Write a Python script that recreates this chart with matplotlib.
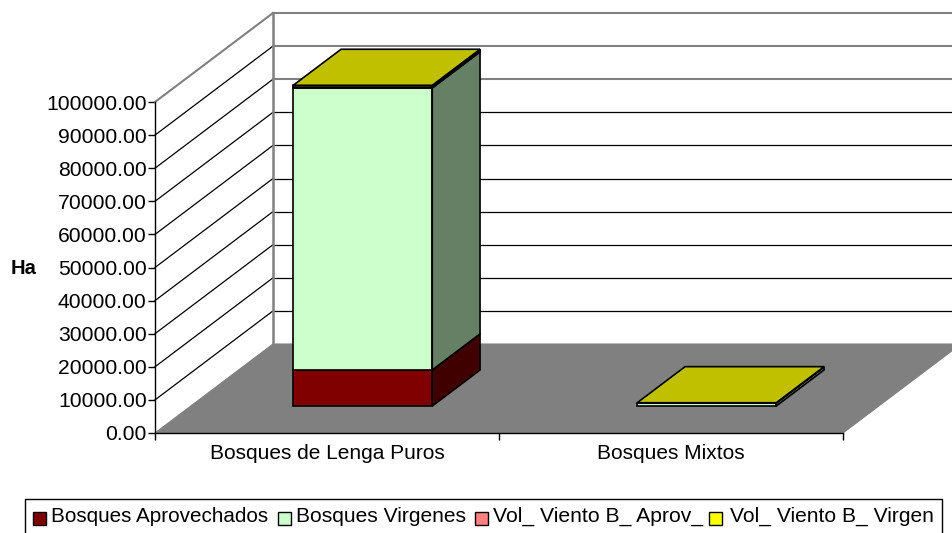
import matplotlib
matplotlib.use('Agg')
import matplotlib.pyplot as plt
from matplotlib.patches import Polygon, Rectangle

plt.rcParams['font.family'] = ['Liberation Sans', 'DejaVu Sans']

# datos
categorias = ['Bosques de Lenga Puros', 'Bosques Mixtos']
series = ['Bosques Aprovechados', 'Bosques Virgenes', 'Vol_ Viento B_ Aprov_', 'Vol_ Viento B_ Virgen']
aprovechados = [10900, 0]
virgenes = [85200, 900]
vol_aprov = [400, 0]
vol_virgen = [400, 100]
yticks = [0, 10000, 20000, 30000, 40000, 50000, 60000, 70000, 80000, 90000, 100000]

colores = ['#800000', '#CCFFCC', '#FF8080', '#FFFF00']
laterales = ['#400000', '#668066', '#804040', '#808000']
superior = '#C0C000'

# profundidad del piso en unidades de datos
DX = 118 / 344
DY = 89 / 331 * 100000
D0, D1 = 0.303, 0.708
ANCHO = 0.404


def proy(x, v, d):
    return (x + d * DX, v + d * DY)


fig = plt.figure(figsize=(9.53, 5.33), dpi=100)
ax = fig.add_axes([155 / 953, 100 / 533, 688 / 953, 331 / 533])
ax.set_xlim(0, 2)
ax.set_ylim(0, 100000)
ax.patch.set_visible(False)


def cara(pts, fc, ec='black', lw=1.2, z=3):
    ax.add_patch(Polygon(pts, closed=True, facecolor=fc, edgecolor=ec, linewidth=lw,
                         zorder=z, clip_on=False, joinstyle='miter'))


# piso
cara([proy(0, 0, 0), proy(2, 0, 0), proy(2, 0, 1), proy(0, 0, 1)], '#808080', '#808080', 0.8, 1)

# lineas de division: diagonal negra, pared del fondo gris arriba
for v in yticks[1:]:
    col_fondo = '#808080' if v >= 80000 else 'black'
    lw_fondo = 1.5 if v >= 80000 else 0.9
    col_diag = '#808080' if v == 100000 else 'black'
    lw_diag = 1.5 if v == 100000 else 0.9
    ax.plot(*zip(proy(0, v, 0), proy(0, v, 1)), color=col_diag, lw=lw_diag, zorder=2, clip_on=False)
    ax.plot(*zip(proy(0, v, 1), proy(2, v, 1)), color=col_fondo, lw=lw_fondo, zorder=2, clip_on=False)
ax.plot(*zip(proy(0, 0, 1), proy(0, 100000, 1)), color='#808080', lw=1.8, zorder=2, clip_on=False)

# barras apiladas
for i in range(len(categorias)):
    x0 = i + 0.5 - ANCHO / 2
    x1 = i + 0.5 + ANCHO / 2
    base = 0
    for valores, c, lat in zip([aprovechados, virgenes, vol_aprov, vol_virgen], colores, laterales):
        tope = base + valores[i]
        if valores[i] == 0:
            continue
        cara([proy(x0, base, D0), proy(x1, base, D0), proy(x1, tope, D0), proy(x0, tope, D0)], c)
        cara([proy(x1, base, D0), proy(x1, base, D1), proy(x1, tope, D1), proy(x1, tope, D0)], lat)
        base = tope
    cara([proy(x0, base, D0), proy(x1, base, D0), proy(x1, base, D1), proy(x0, base, D1)], superior)

# ejes
for s in ['top', 'right']:
    ax.spines[s].set_visible(False)
for s in ['left', 'bottom']:
    ax.spines[s].set_linewidth(1.0)
    ax.spines[s].set_zorder(6)
ax.set_yticks(yticks)
ax.set_yticklabels(['%.2f' % v for v in yticks], fontsize=15.2)
ax.set_xticks([0, 1, 2])
ax.set_xticklabels([])
ax.set_xticks([0.5, 1.5], minor=True)
ax.set_xticklabels(categorias, minor=True, fontsize=15.0)
ax.tick_params(axis='both', which='major', length=5, width=1.0)
ax.tick_params(axis='x', which='minor', length=0, pad=8)
ax.tick_params(axis='y', pad=1)

fig.text(24 / 953, 1 - 268 / 533, 'Ha', fontsize=14.5, fontweight='bold', ha='center', va='center')

# leyenda, el borde inferior queda cortado por la imagen
fig.add_artist(Rectangle((25 / 953, 1 - 540 / 533), 917 / 953, 41 / 533, transform=fig.transFigure,
                         facecolor='white', edgecolor='black', linewidth=1.0))
ley_caja = [33, 278, 475, 709]
ley_texto = [51, 296, 493, 730]
ley_size = [14.9, 15.1, 15.2, 15.1]
for s, c, xc, xt, fs in zip(series, colores, ley_caja, ley_texto, ley_size):
    fig.add_artist(Rectangle((xc / 953, 1 - 525 / 533), 13 / 953, 13 / 533, transform=fig.transFigure,
                             facecolor=c, edgecolor='black', linewidth=1.0))
    fig.text(xt / 953, 1 - 516 / 533, s, fontsize=fs, va='center', ha='left')

fig.savefig('out.png', dpi=100)
